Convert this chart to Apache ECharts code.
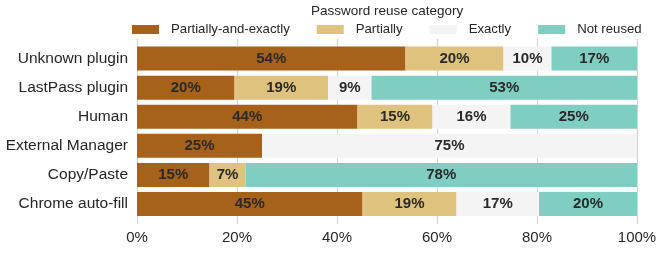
<!DOCTYPE html>
<html>
	<head>
		<meta charset="utf-8">
		<title>Password reuse category</title>
		<script src="https://cdn.jsdelivr.net/npm/echarts@6/dist/echarts.min.js"></script>
		<style type="text/css">
			html, body {
				margin: 0;
				padding: 0;
				background: #ffffff;
			}
			#main {
				width: 671px;
				height: 253px;
			}
		</style>
	</head>
	<body>
		<div id="main"></div>
	</body>
</html>

<script type="text/javascript">
	// 数据
	var categories = ['Unknown plugin', 'LastPass plugin', 'Human', 'External Manager', 'Copy/Paste', 'Chrome auto-fill'];
	var seriesNames = ['Partially-and-exactly', 'Partially', 'Exactly', 'Not reused'];
	var partiallyAndExactly = [53.7, 19.5, 44.1, 25.0, 14.5, 45.1];
	var partially = [19.6, 18.7, 15.0, 0, 7.2, 18.8];
	var exactly = [9.6, 8.7, 15.6, 75.0, 0, 16.5];
	var notReused = [17.1, 53.1, 25.3, 0, 78.3, 19.6];
	var xTicks = [0, 20, 40, 60, 80, 100];

	var colors = ['#a6611a', '#dfc27d', '#f4f4f4', '#80cdc1'];
	var font = "'Liberation Sans', Arial, sans-serif";
	var textColor = '#262626';

	var myChart = echarts.init(document.getElementById('main'));

	var values = [partiallyAndExactly, partially, exactly, notReused];
	var series = [];
	for (var i = 0; i < seriesNames.length; i++) {
		series.push({
			name: seriesNames[i],
			type: 'bar',
			stack: 'total',
			xAxisIndex: 1,
			yAxisIndex: 1,
			barWidth: 24,
			itemStyle: { color: colors[i] },
			label: {
				show: true,
				position: 'inside',
				fontFamily: font,
				fontSize: 15,
				fontWeight: 'bold',
				color: '#2a2a2a',
				formatter: function (p) {
					return p.value > 0 ? Math.round(p.value) + '%' : '';
				}
			},
			emphasis: { disabled: true },
			data: values[i],
			animation: false
		});
	}

	var option = {
		backgroundColor: '#ffffff',
		title: {
			text: 'Password reuse category',
			left: 311,
			top: 4,
			padding: 0,
			textStyle: {
				fontFamily: font,
				fontSize: 13.5,
				fontWeight: 'normal',
				color: textColor
			}
		},
		legend: {
			data: seriesNames,
			left: 132,
			top: 23,
			padding: 0,
			itemWidth: 27,
			itemHeight: 9,
			itemGap: 27,
			icon: 'rect',
			textStyle: {
				fontFamily: font,
				fontSize: 13.2,
				color: textColor,
				padding: [0, 0, 0, 7]
			}
		},
		grid: [
			// 背景网格线
			{ left: 137, right: 34, top: 39, bottom: 29 },
			// 柱子
			{ left: 137, right: 34, top: 44, bottom: 34.5 }
		],
		xAxis: [
			{
				type: 'value',
				gridIndex: 0,
				min: xTicks[0],
				max: xTicks[xTicks.length - 1],
				interval: 20,
				axisLine: { show: false },
				axisTick: { show: false },
				splitLine: { show: true, lineStyle: { color: '#d4d4d4', width: 1.2 } },
				axisLabel: {
					formatter: '{value}%',
					fontFamily: font,
					fontSize: 15,
					color: textColor,
					margin: 6
				}
			},
			{
				type: 'value',
				gridIndex: 1,
				min: 0,
				max: 100,
				show: false
			}
		],
		yAxis: [
			{
				type: 'value',
				gridIndex: 0,
				show: false
			},
			{
				type: 'category',
				gridIndex: 1,
				inverse: true,
				data: categories,
				axisLine: { show: false },
				axisTick: { show: false },
				splitLine: { show: false },
				axisLabel: {
					fontFamily: font,
					fontSize: 15.5,
					color: textColor,
					margin: 9
				}
			}
		],
		series: series
	};

	myChart.setOption(option);
</script>
